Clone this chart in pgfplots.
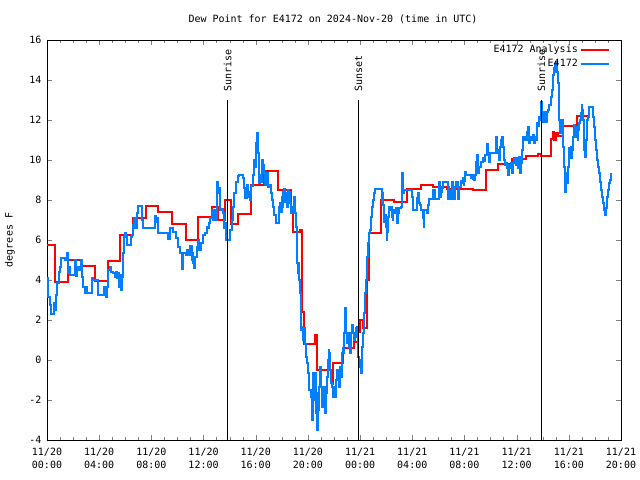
\documentclass[border=0pt]{standalone}
\usepackage{fontspec}
\setmainfont{DejaVu Sans Mono}
\usepackage{pgfplots}
\pgfplotsset{compat=1.18}
\definecolor{gpblue}{rgb}{0,0.5,1}
\pgfplotsset{gpleg/.style={legend image code/.code={\draw[##1] (0bp,0bp) -- (28bp,0bp);}}}
\begin{document}
\begin{tikzpicture}[font=\fontsize{10bp}{12.5bp}\selectfont]
\path[use as bounding box] (0,0) rectangle (640bp,480bp);
\node at (333bp,461bp) {Dew Point for E4172 on 2024-Nov-20 (time in UTC)};
\node[rotate=90] at (10bp,240bp) {degrees F};
\begin{axis}[
  at={(47bp,40bp)}, anchor=south west, scale only axis,
  width=574bp, height=400bp,
  xmin=0, xmax=44, ymin=-4, ymax=16,
  xtick={0,4,...,44}, minor x tick num=3,
  xticklabels={{11/20\\00:00},{11/20\\04:00},{11/20\\08:00},{11/20\\12:00},{11/20\\16:00},{11/20\\20:00},{11/21\\00:00},{11/21\\04:00},{11/21\\08:00},{11/21\\12:00},{11/21\\16:00},{11/21\\20:00}},
  xticklabel style={align=center, yshift=-5bp},
  ytick={-4,-2,...,16},
  yticklabel style={xshift=-2bp},
  /pgf/number format/assume math mode=true,
  tick align=inside, major tick length=5bp, minor tick length=3bp,
  axis line style={line width=0.9bp},
  legend style={at={(1,1)}, anchor=north east, xshift=-10bp, yshift=-2bp, draw=none, fill=none, legend cell align=right, row sep=1bp, inner sep=1pt},
  legend plot pos=right,
]
\addplot[red, line width=2bp, const plot, gpleg] coordinates {
(0,5.75)(0.6,3.88)(1.58,5.0)(2.64,4.68)(3.65,3.95)(4.67,4.95)(5.6,6.23)(6.57,7.08)(7.59,7.68)(8.53,7.4)(9.56,6.82)(10.63,6.0)(11.6,7.13)(12.62,7.63)(13.13,7.0)(13.65,8.0)(14.08,6.8)(14.62,7.28)(15.6,8.73)(16.66,9.43)(17.69,8.5)(18.68,7.38)(18.88,6.38)(19.4,6.5)(19.55,2.4)(19.7,0.8)(20.54,1.25)(20.67,-0.5)(21.82,-1.2)(21.95,-0.17)(22.67,0.58)(23.55,0.92)(23.83,1.42)(23.99,2.0)(24.25,1.58)(24.55,4.0)(24.65,6.33)(25.58,8.0)(26.62,7.92)(27.62,8.53)(28.65,8.75)(29.6,8.63)(30.64,8.53)(32.68,8.48)(33.63,9.5)(34.55,9.78)(35.67,10.03)(36.72,10.18)(37.66,10.32)(37.85,10.18)(38.6,11.03)(38.75,11.4)(38.9,11.0)(39.05,11.35)(39.2,11.2)(39.53,11.68)(40.6,12.18)(41.57,12.18)
};
\addlegendentry{E4172 Analysis}
\addplot[gpblue, line width=2bp, const plot, gpleg] coordinates {
(0,4.08)(0.10,3.17)(0.23,2.75)(0.31,2.3)(0.54,2.83)(0.61,2.5)(0.69,3.25)(0.79,3.83)(0.92,4.42)(1.0,4.67)(1.05,5.08)(1.38,5.0)(1.51,5.33)(1.63,4.33)(1.71,4.67)(1.76,4.25)(2.15,5.0)(2.22,4.2)(2.32,4.5)(2.4,4.67)(2.48,4.5)(2.58,5.0)(2.66,4.17)(2.78,3.67)(2.91,3.33)(2.99,3.67)(3.09,3.33)(3.43,4.08)(3.55,4.0)(3.93,3.25)(4.37,3.67)(4.5,3.17)(4.58,3.67)(4.70,4.5)(4.83,4.67)(4.91,4.42)(5.04,4.33)(5.21,4.17)(5.29,4.42)(5.39,4.08)(5.47,4.33)(5.54,3.67)(5.65,4.25)(5.7,3.5)(5.75,4.17)(5.8,5.33)(5.9,6.17)(5.98,6.33)(6.06,6.17)(6.16,5.75)(6.42,6.17)(6.49,6.25)(6.57,6.75)(6.67,7.08)(6.75,6.58)(6.88,7.33)(7.0,7.7)(7.26,7.0)(7.38,6.58)(8.28,7.2)(8.36,6.9)(8.41,7.1)(8.53,6.33)(9.3,6.03)(9.43,6.58)(9.68,6.42)(9.89,6.08)(10.07,5.67)(10.2,5.33)(10.33,4.53)(10.4,5.33)(10.63,5.25)(10.71,5.5)(10.79,5.25)(10.96,5.7)(11.09,5.0)(11.17,5.33)(11.22,4.83)(11.29,4.58)(11.37,5.17)(11.48,5.67)(11.55,6.0)(11.65,5.5)(11.81,5.83)(11.98,6.25)(12.11,6.33)(12.24,6.67)(12.32,6.58)(12.42,6.83)(12.5,7.08)(12.63,7.5)(12.75,7.0)(12.8,7.5)(12.88,7.0)(13.01,7.47)(13.06,8.92)(13.13,8.33)(13.19,8.6)(13.26,7.5)(13.39,7.53)(13.47,7.33)(13.57,6.58)(13.65,6.83)(13.72,6.0)(13.9,6.0)(14.03,6.5)(14.16,7.0)(14.23,7.67)(14.34,8.33)(14.49,8.92)(14.67,9.2)(14.74,9.27)(14.97,9.25)(15.05,9.1)(15.1,8.58)(15.18,8.08)(15.31,8.75)(15.39,8.17)(15.47,8.42)(15.57,8.0)(15.65,8.7)(15.82,9.23)(15.9,10.0)(15.98,9.67)(16.02,10.83)(16.07,11.33)(16.15,10.83)(16.2,10.33)(16.25,9.9)(16.28,8.83)(16.33,9.25)(16.38,8.92)(16.46,9.5)(16.51,10.0)(16.58,9.75)(16.63,9.33)(16.71,8.75)(16.79,9.13)(16.84,9.33)(16.92,8.67)(17.09,8.75)(17.17,8.33)(17.27,8.0)(17.35,7.67)(17.43,7.25)(17.53,6.83)(17.77,7.25)(17.81,7.67)(17.86,7.83)(17.94,7.42)(17.99,8.17)(18.07,7.67)(18.12,8.42)(18.19,8.53)(18.25,7.92)(18.32,8.33)(18.37,7.67)(18.45,8.5)(18.53,8.17)(18.57,8.42)(18.63,7.83)(18.68,7.33)(18.76,7.67)(18.84,7.33)(18.88,7.67)(18.96,8.17)(19.01,7.33)(19.07,6.67)(19.14,5.5)(19.19,4.83)(19.27,4.33)(19.32,4.83)(19.34,4.0)(19.4,3.33)(19.45,2.5)(19.5,1.5)(19.55,1.67)(19.6,1.0)(19.7,1.58)(19.78,0.8)(19.85,0.17)(19.95,-0.17)(20.03,-0.67)(20.11,-1.5)(20.21,-1.83)(20.29,-3.0)(20.37,-1.5)(20.41,-0.67)(20.47,-1.33)(20.52,-2.0)(20.57,-0.67)(20.65,-2.67)(20.72,-3.5)(20.77,-1.67)(20.83,-2.5)(20.88,-1.33)(20.93,-0.33)(21.0,-1.33)(21.08,-2.33)(21.13,-1.83)(21.19,-2.17)(21.26,-1.33)(21.31,-2.67)(21.39,-1.67)(21.44,-0.83)(21.52,0.0)(21.6,0.5)(21.64,0.33)(21.69,-0.5)(21.77,-1.17)(21.85,-1.33)(21.95,-1.83)(22.05,-1.33)(22.1,-1.83)(22.15,-1.0)(22.21,-0.5)(22.28,-0.83)(22.38,-1.33)(22.46,-0.33)(22.51,-0.83)(22.59,0.33)(22.67,0.58)(22.72,0.33)(22.79,1.33)(22.87,2.58)(22.92,1.33)(22.98,0.83)(23.05,1.33)(23.13,0.67)(23.17,1.0)(23.25,0.33)(23.3,1.33)(23.38,1.75)(23.46,1.33)(23.53,1.0)(23.61,1.17)(23.66,1.58)(23.74,1.33)(23.79,1.67)(23.86,0.17)(23.94,0.0)(23.99,-0.33)(24.05,-0.67)(24.12,-0.33)(24.17,0.67)(24.25,1.33)(24.3,2.33)(24.38,3.33)(24.43,4.0)(24.51,5.17)(24.58,5.83)(24.66,6.33)(24.76,6.5)(24.84,7.17)(24.89,7.67)(25.01,8.0)(25.07,8.33)(25.17,8.53)(25.66,7.83)(25.71,8.33)(25.78,7.75)(25.86,6.92)(25.91,7.25)(25.96,6.67)(26.04,6.0)(26.09,6.42)(26.16,7.17)(26.22,7.67)(26.29,7.5)(26.37,7.67)(26.42,7.17)(26.5,7.0)(26.55,7.33)(26.6,7.5)(26.68,7.33)(26.73,7.58)(26.81,6.83)(26.89,7.5)(26.93,7.33)(27.01,7.58)(27.12,7.67)(27.2,8.33)(27.24,9.37)(27.29,8.33)(27.37,8.5)(27.88,8.5)(27.98,8.17)(28.08,7.5)(28.39,8.08)(28.46,8.33)(28.54,7.83)(28.59,7.75)(28.67,7.5)(28.82,7.08)(28.88,6.67)(28.92,7.5)(29.13,7.33)(29.21,7.75)(29.28,8.03)(29.6,8.5)(29.74,8.03)(30.05,8.92)(30.13,8.17)(30.18,8.67)(30.26,8.42)(30.3,8.58)(30.38,8.92)(30.72,8.42)(30.76,8.03)(30.79,8.67)(30.82,8.08)(30.89,8.5)(30.97,8.03)(31.07,8.92)(31.15,8.5)(31.22,8.03)(31.28,8.67)(31.35,8.92)(31.53,8.03)(31.61,8.67)(31.71,8.95)(31.79,8.83)(31.87,9.08)(31.94,8.73)(31.99,8.95)(32.04,9.42)(32.14,9.25)(32.48,9.08)(32.56,9.25)(32.63,9.03)(32.68,9.25)(32.75,9.0)(32.81,9.25)(32.86,9.92)(32.94,10.25)(33.02,9.5)(33.07,9.33)(33.14,9.67)(33.27,9.92)(33.45,10.08)(33.52,9.97)(33.6,10.25)(33.71,10.33)(33.75,10.8)(33.83,10.25)(33.88,9.92)(33.96,10.33)(34.4,10.7)(34.45,11.17)(34.52,10.33)(34.6,10.5)(34.68,10.0)(34.75,10.67)(34.81,11.0)(34.86,10.75)(34.91,11.17)(34.96,10.67)(35.01,10.0)(35.11,9.75)(35.19,9.83)(35.27,9.58)(35.36,9.25)(35.43,9.75)(35.49,9.58)(35.57,9.83)(35.67,9.33)(35.75,9.83)(35.83,10.08)(35.93,9.75)(36.01,10.08)(36.08,9.58)(36.16,10.17)(36.24,9.33)(36.32,9.83)(36.39,10.5)(36.47,10.75)(36.51,11.17)(36.62,11.0)(36.77,11.42)(36.82,11.17)(36.89,11.67)(36.97,10.83)(37.03,11.17)(37.16,11.0)(37.24,11.25)(37.31,10.83)(37.39,11.17)(37.46,11.0)(37.54,11.42)(37.59,11.83)(37.67,11.7)(37.72,12.17)(37.79,12.0)(37.85,12.33)(37.89,12.92)(37.95,12.42)(38.0,12.17)(38.05,11.92)(38.1,12.17)(38.18,12.42)(38.25,11.92)(38.31,12.25)(38.35,12.42)(38.43,12.5)(38.51,12.75)(38.61,13.17)(38.69,13.5)(38.77,13.83)(38.81,14.25)(38.89,14.58)(38.94,14.75)(39.0,14.42)(39.04,14.92)(39.12,14.42)(39.17,13.83)(39.22,13.17)(39.27,12.0)(39.35,11.33)(39.42,11.83)(39.47,12.0)(39.53,10.67)(39.6,9.67)(39.68,9.0)(39.73,8.42)(39.79,9.33)(39.84,8.83)(39.92,9.67)(39.99,10.17)(40.04,10.58)(40.09,10.17)(40.15,10.67)(40.19,10.08)(40.25,10.5)(40.3,11.0)(40.35,11.17)(40.42,11.75)(40.48,11.17)(40.55,11.67)(40.6,11.33)(40.68,11.0)(40.73,11.5)(40.81,11.83)(40.86,12.0)(40.91,12.33)(40.99,12.75)(41.04,12.5)(41.09,12.0)(41.14,11.17)(41.19,10.5)(41.24,10.17)(41.29,11.0)(41.37,12.0)(41.45,12.17)(41.53,12.67)(41.88,12.17)(41.96,11.67)(42.03,11.0)(42.11,10.5)(42.19,10.0)(42.26,9.67)(42.34,9.33)(42.42,8.92)(42.49,8.5)(42.57,8.17)(42.65,7.83)(42.72,7.5)(42.8,7.25)(42.85,7.58)(42.9,8.0)(42.95,8.17)(43.03,8.5)(43.11,8.83)(43.18,9.0)(43.26,9.33)
};
\addlegendentry{E4172}
\addplot[black, line width=1bp, forget plot] coordinates {(13.84,-4)(13.84,13)};
\addplot[black, line width=1bp, forget plot] coordinates {(23.87,-4)(23.87,13)};
\addplot[black, line width=1bp, forget plot] coordinates {(37.9,-4)(37.9,13)};
\node[rotate=90, anchor=west, inner sep=0pt] at (axis cs:13.84,13.4) {Sunrise};
\node[rotate=90, anchor=west, inner sep=0pt] at (axis cs:23.87,13.4) {Sunset};
\node[rotate=90, anchor=west, inner sep=0pt] at (axis cs:37.9,13.4) {Sunrise};
\end{axis}
\end{tikzpicture}
\end{document}
